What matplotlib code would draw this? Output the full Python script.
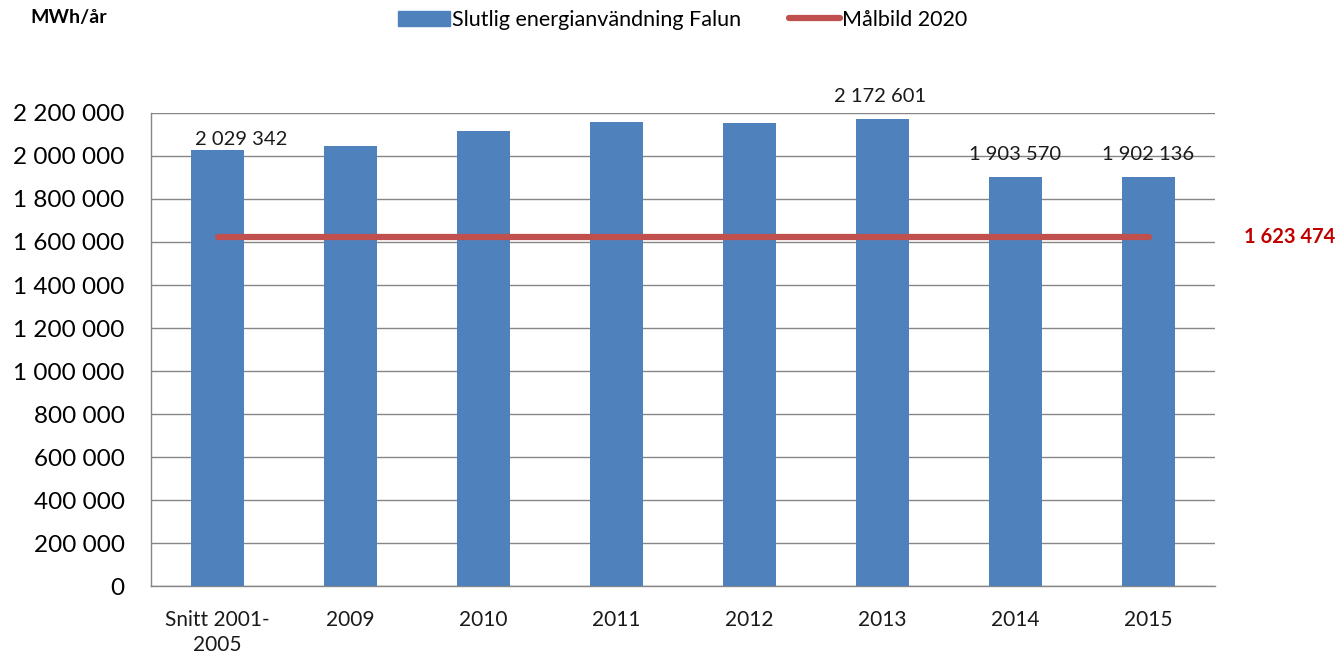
import matplotlib.pyplot as plt
import numpy as np
from matplotlib.lines import Line2D
from matplotlib.patches import Patch

# data
categories = ['Snitt 2001-\n2005', '2009', '2010', '2011', '2012', '2013', '2014', '2015']
energy_use = [2029342, 2047000, 2117000, 2158000, 2154000, 2172601, 1903570, 1902136]
target_2020 = 1623474
labelled = [0, 5, 6, 7]          # bars that carry a value label in the original
y_ticks = np.arange(0, 2200001, 200000)

BLUE = '#4F81BD'
RED = '#C0504D'
GRID = '#868686'

plt.rcParams['font.family'] = ['Lato', 'DejaVu Sans']


def fmt(v):
    return f'{int(v):,}'.replace(',', ' ')


fig = plt.figure(figsize=(13.39, 6.55), dpi=100)
ax = fig.add_axes([0.1128, 0.1053, 0.7946, 0.7222])

x = np.arange(len(categories))
bars = ax.bar(x, energy_use, width=0.4, color=BLUE, zorder=3)
ax.plot([x[0], x[-1]], [target_2020, target_2020], color=RED, lw=4.5,
        solid_capstyle='round', zorder=4)

# value labels (offsets in points, to mimic the original placement)
offsets = {0: (17, 1), 5: (-2, 10), 6: (0, 10), 7: (0, 10)}
for i in labelled:
    dx, dy = offsets[i]
    ax.annotate(fmt(energy_use[i]), (x[i], energy_use[i]),
                xytext=(dx, dy), textcoords='offset points',
                ha='center', va='bottom', fontsize=14.5, color='#1a1a1a', zorder=5)

ax.set_xlim(-0.5, len(categories) - 0.5)
ax.set_ylim(0, 2200000)
ax.set_yticks(y_ticks)
ax.set_yticklabels([fmt(v) for v in y_ticks], fontsize=17.5)
ax.set_xticks(x)
ax.set_xticklabels(categories, fontsize=15, color='#1a1a1a', linespacing=1.35)
ax.tick_params(axis='y', length=0, pad=19)
ax.tick_params(axis='x', length=0, pad=17)
ax.grid(axis='y', color=GRID, lw=1, zorder=0)
for side in ['top', 'right']:
    ax.spines[side].set_visible(False)
for side in ['left', 'bottom']:
    ax.spines[side].set_color(GRID)
    ax.spines[side].set_linewidth(1)

fig.text(30 / 1339, 1 - 18 / 655, 'MWh/år', fontsize=14, fontweight='bold',
         ha='left', va='center')
fig.text(1335 / 1339, 1 - 237 / 655, fmt(target_2020), fontsize=14.5,
         fontweight='bold', color='#C00000', ha='right', va='center')

handles = [Patch(color=BLUE), Line2D([0], [0], color=RED, lw=4.5, solid_capstyle='round')]
fig.legend(handles, ['Slutlig energianvändning Falun', 'Målbild 2020'],
           loc='center', bbox_to_anchor=(683 / 1339, 1 - 20 / 655), ncol=2,
           frameon=False, fontsize=15.5, handlelength=2.4, handletextpad=0.1,
           columnspacing=2.2)

fig.savefig('out.png', dpi=100)
